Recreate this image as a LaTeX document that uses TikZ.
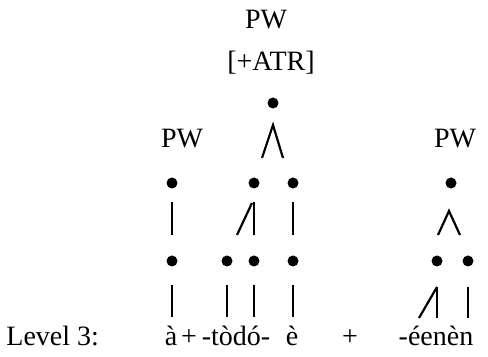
\documentclass[tikz,border=0pt]{standalone}
\usepackage{fontspec}
\setmainfont{Liberation Serif}
\usetikzlibrary{positioning}

\begin{document}
\begin{tikzpicture}[
    x=0.5pt, y=-0.5pt,
    font={\fontsize{14}{16}\selectfont},
    dot/.style={circle,fill=black,inner sep=0pt,minimum size=5.5pt},
    txt/.style={anchor=base,inner sep=0pt},
    stroke/.style={line width=1.1pt},
]
    \useasboundingbox (0,0) rectangle (488,357);

    % Labels
    \node[txt] (pwtop)   at (266,29)  {PW};
    \node[txt] (atr)     at (271,71)  {[+ATR]};
    \node[txt] (pwleft)  at (182,148) {PW};
    \node[txt] (pwright) at (455,148) {PW};

    % Dots
    \node[dot] (top) at (273,103) {};
    \node[dot] (a1)  at (172,183) {};
    \node[dot] (b1)  at (254,183) {};
    \node[dot] (c1)  at (293,183) {};
    \node[dot] (a2)  at (172,261) {};
    \node[dot] (b2)  at (227,261) {};
    \node[dot] (c2)  at (254,261) {};
    \node[dot] (d2)  at (293,261) {};
    \node[dot] (r0)  at (451,183) {};
    \node[dot] (r1)  at (437,261) {};
    \node[dot] (r2)  at (468,261) {};

    % Text
    \node[txt,anchor=base west] (level) at (6,346) {Level 3:};
    \node[txt] (agr)   at (171,346) {à};
    \node[txt] (plus1) at (189,346) {+};
    \node[txt] (todo)  at (236,346) {-tòdó-};
    \node[txt] (egr)   at (292,346) {è};
    \node[txt] (plus2) at (350,346) {+};
    \node[txt] (eenen) at (436,346) {-éenèn};

    % Lines
    \draw[stroke] (top) ++(-11,55) -- ++(11,-33) -- ++(10,33);
    \draw[stroke] (a1) ++(0,19) -- ++(0,33);
    \draw[stroke] (b1) ++(-2,20) -- ++(-15,32);
    \draw[stroke] (b1) ++(0,19) -- ++(0,33);
    \draw[stroke] (c1) ++(0,19) -- ++(0,33);
    \draw[stroke] (a2) ++(0,24) -- ++(0,32);
    \draw[stroke] (b2) ++(0,24) -- ++(0,32);
    \draw[stroke] (c2) ++(0,24) -- ++(0,32);
    \draw[stroke] (d2) ++(0,24) -- ++(0,32);
    \draw[stroke] (r0) ++(-13,52) -- ++(11,-24) -- ++(11,24);
    \draw[stroke] (r1) ++(0,26) -- ++(-18,31);
    \draw[stroke] (r1) ++(0,26) -- ++(0,31);
    \draw[stroke] (r2) ++(0,26) -- ++(0,31);

\end{tikzpicture}
\end{document}
